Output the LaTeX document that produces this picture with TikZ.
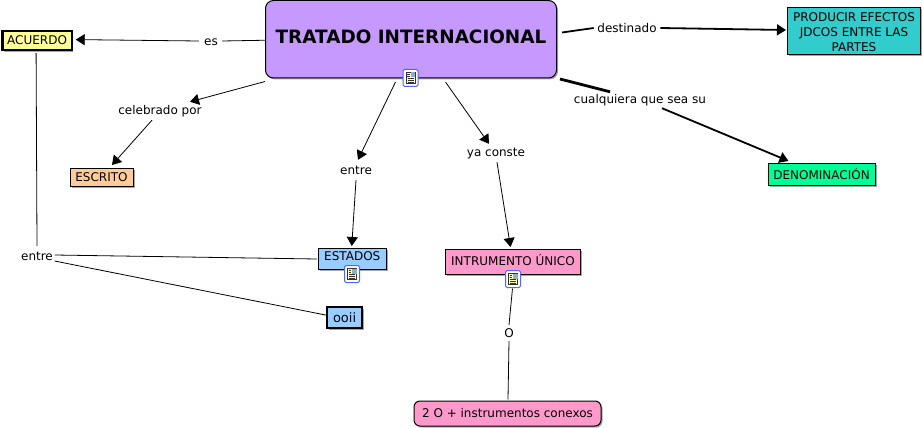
\documentclass[tikz,border=0pt]{standalone}
\usepackage{fontspec}
\setmainfont{DejaVu Sans}
\usetikzlibrary{arrows.meta,shadows,positioning}
\definecolor{cpurple}{HTML}{C699FF}
\definecolor{cyellow}{HTML}{FFFF99}
\definecolor{cteal}{HTML}{33CCCC}
\definecolor{cgreen}{HTML}{00FF99}
\definecolor{corange}{HTML}{FFCC99}
\definecolor{cblue}{HTML}{99CCFF}
\definecolor{cpink}{HTML}{FF99CC}
\tikzset{
  x=1pt,y=-1pt,
  every node/.style={font=\fontsize{12pt}{14.8pt}\selectfont,text=black},
  concept/.style={draw=black,line width=1pt,align=center,inner sep=0pt,anchor=north west,
    general shadow={shadow xshift=1.5pt,shadow yshift=-1.5pt,fill=black!35}},
  heavy/.style={concept,line width=2.2pt},
  phrase/.style={inner sep=0pt,anchor=center,text height=10pt,text depth=1pt},
  link/.style={draw=black,line width=0.8pt},
  linkb/.style={draw=black,line width=1.8pt},
  linkc/.style={draw=black,line width=2.8pt},
  tip/.style={-{Triangle[length=9pt,width=11pt]}},
  iconbox/.style={draw=cblue!50!blue,fill=white,line width=1pt,rounded corners=1.5pt,minimum width=15pt,minimum height=17pt,inner sep=0pt},
}
\newcommand{\docicon}[2]{%
  \node[iconbox] (#1) at #2 {};
  \fill[cyellow!80!white,draw=black!80,line width=0.4pt] ([xshift=-4.5pt,yshift=-5.5pt]#1.center) rectangle ([xshift=4.5pt,yshift=6pt]#1.center);
  \fill[cblue!60!gray] ([xshift=0pt,yshift=5.5pt]#1.center) rectangle ([xshift=4.5pt,yshift=0.5pt]#1.center);
  \foreach \yy in {-0.5,-2.5,-4.5}{\draw[black!80,line width=0.4pt] ([xshift=-3pt,yshift=\yy pt]#1.center) -- ([xshift=3pt,yshift=\yy pt]#1.center);}
  \foreach \yy in {4,2}{\draw[black!80,line width=0.4pt] ([xshift=-3.5pt,yshift=\yy pt]#1.center) -- ([xshift=-1pt,yshift=\yy pt]#1.center);}
}
\begin{document}
\begin{tikzpicture}
\useasboundingbox (0,0) rectangle (922,428);
\fill[white] (0,0) rectangle (922,428);
% concepts
\node[concept,fill=cpurple,rounded corners=8pt,minimum width=291pt,minimum height=77.5pt,font=\fontsize{18.4pt}{21pt}\selectfont\bfseries,text depth=6pt] (t) at (265,0) {TRATADO INTERNACIONAL};
\node[heavy,fill=cyellow,minimum width=69pt,minimum height=19pt] (acu) at (1.5,30) {ACUERDO};
\node[concept,fill=cteal,minimum width=133pt,minimum height=47pt] (prod) at (787,7) {\rule{0pt}{11pt}PRODUCIR EFECTOS\\JDCOS ENTRE LAS\\PARTES};
\node[concept,fill=cgreen,minimum width=107pt,minimum height=21.5pt,text depth=1pt] (den) at (767.5,163) {DENOMINACIÓN};
\node[concept,fill=corange,minimum width=63pt,minimum height=18pt] (esc) at (69.5,168) {ESCRITO};
\node[concept,fill=cblue,minimum width=67.5pt,minimum height=21pt,text depth=5pt,text height=8pt] (est) at (318,248) {ESTADOS};
\node[heavy,fill=cblue,minimum width=35pt,minimum height=21pt,font=\fontsize{13pt}{16pt}\selectfont] (ooi) at (326,306) {ooii};
\node[concept,fill=cpink,minimum width=135pt,minimum height=24.5pt,text depth=2pt,text height=9pt] (ins) at (445,249) {INTRUMENTO ÚNICO};
\node[concept,fill=cpink,rounded corners=6pt,minimum width=187pt,minimum height=25pt] (dos) at (413.5,400.5) {2 O + instrumentos conexos};
% linking phrases
\node[phrase] (es) at (211,41) {es};
\node[phrase] (des) at (627,28) {destinado};
\node[phrase] (cel) at (160,110) {celebrado por};
\node[phrase] (cua) at (640,99) {cualquiera que sea su};
\node[phrase] (en1) at (356,170) {entre};
\node[phrase] (ya) at (496,152) {ya conste};
\node[phrase] (en2) at (37,256) {entre};
\node[phrase] (oo) at (509,333) {O};
% connectors (shifts are in screen sense: positive yshift is up in pt)
\draw[link] ([yshift=-1pt]t.west) -- ([xshift=4pt]es.east);
\draw[link,tip] ([xshift=-5pt]es.west) -- ([xshift=3pt,yshift=1pt]acu.east);
\draw[linkb] ([xshift=5pt,yshift=6.75pt]t.east) -- ([xshift=-3.5pt]des.west);
\draw[linkb,tip] ([xshift=3.5pt]des.east) -- ([xshift=-1pt,yshift=1pt]prod.west);
\draw[linkc] ([xshift=3pt,yshift=-0.5pt]t.south east) -- ([xshift=-30pt,yshift=1.5pt]cua.north);
\draw[linkb,tip] ([xshift=22pt,yshift=-3.5pt]cua.south) -- ([xshift=-33pt,yshift=2pt]den.north);
\draw[link,tip] ([yshift=-3pt]t.south west) -- ([xshift=30pt,yshift=2.5pt]cel.north);
\draw[link,tip] ([xshift=-8pt,yshift=-4.5pt]cel.south) -- ([xshift=10.5pt,yshift=3pt]esc.north);
\draw[link,tip] ([xshift=-15.5pt,yshift=-3.5pt]t.south) -- ([xshift=2pt,yshift=4.5pt]en1.north);
\draw[link,tip] ([yshift=-4.5pt]en1.south) -- ([xshift=-0.5pt,yshift=2pt]est.north);
\draw[link,tip] ([xshift=34.5pt,yshift=-3.5pt]t.south) -- ([xshift=-7pt,yshift=2.5pt]ya.north);
\draw[link,tip] ([xshift=1pt,yshift=-4.5pt]ya.south) -- ([xshift=-2.5pt,yshift=2pt]ins.north);
\draw[link] ([xshift=-1pt,yshift=-2pt]acu.south) -- ([yshift=4.5pt]en2.north);
\draw[link] ([xshift=1.5pt,yshift=1pt]en2.east) -- ([xshift=-1pt]est.west);
\draw[link] ([xshift=1.5pt,yshift=-5pt]en2.east) -- ([yshift=2.5pt]ooi.west);
\draw[link] ([xshift=-0.5pt,yshift=-14pt]ins.south) -- ([yshift=2.5pt]oo.north);
\draw[link] ([yshift=-2.5pt]oo.south) -- ([xshift=0.5pt,yshift=1pt]dos.north);
% icons
\docicon{ic1}{(410.5,78)}
\docicon{ic2}{(352,274)}
\docicon{ic3}{(513,279)}
\end{tikzpicture}
\end{document}
